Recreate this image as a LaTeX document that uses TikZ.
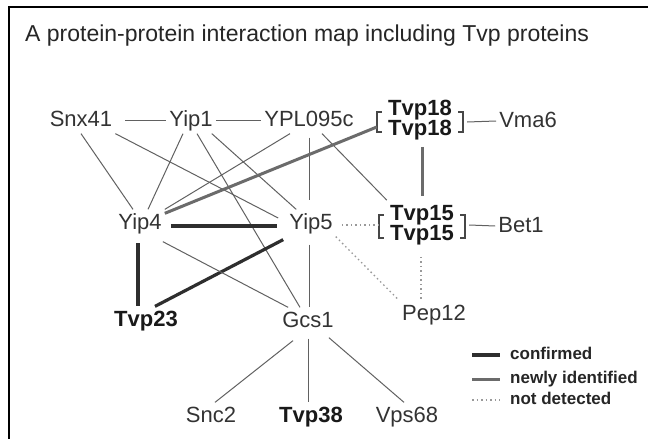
\documentclass[tikz,border=0pt]{standalone}
\usepackage{fontspec}
\setmainfont{Liberation Sans}
\usetikzlibrary{calc,fit}
\definecolor{ink}{HTML}{333333}
\begin{document}
\begin{tikzpicture}[x=1pt,y=-1pt,
  lbl/.style={font=\fontsize{22}{24}\selectfont, text=ink, inner sep=3pt,
              text height=16.5pt, text depth=4.4pt},
  blbl/.style={lbl, font=\fontsize{22}{24}\selectfont\bfseries, text=black!90},
  plain/.style={draw=black!62, line width=1pt},
  confirmed/.style={draw=black!82, line width=3.2pt},
  newly/.style={draw=black!58, line width=3pt},
  notdet/.style={draw=black!40, line width=1.3pt, dash pattern=on 1.5pt off 3pt},
  brk/.style={draw=black!72, line width=2pt},
  legtxt/.style={font=\fontsize{17}{19}\selectfont\bfseries, text=black!85,
                 inner sep=0pt, anchor=west, text height=12pt, text depth=3.5pt},
  grp/.style={inner xsep=8pt, inner ysep=0pt}
]
\useasboundingbox (0,0) rectangle (648,439);
\fill[white] (0,0) rectangle (648,439);

% frame
\draw[line width=2.6pt, black] (9,439) -- (9,7) -- (648,7);

% title
\node[font=\fontsize{23}{25}\selectfont, text=black!85, anchor=base west, inner sep=0pt]
  (title) at (25,41) {A protein-protein interaction map including Tvp proteins};

% proteins
\node[lbl]  (snx)   at (81,120)  {Snx41};
\node[lbl]  (yip1)  at (191,120) {Yip1};
\node[lbl]  (ypl)   at (309,120) {YPL095c};
\node[blbl] (t18a)  at (420,109) {Tvp18};
\node[blbl] (t18b)  at (420,129) {Tvp18};
\node[grp, fit=(t18a)(t18b)] (t18) {};
\node[lbl]  (vma6)  at (528,121) {Vma6};
\node[lbl]  (yip4)  at (140,223) {Yip4};
\node[lbl]  (yip5)  at (311,223) {Yip5};
\node[blbl] (t15a)  at (422,214) {Tvp15};
\node[blbl] (t15b)  at (422,234) {Tvp15};
\node[grp, fit=(t15a)(t15b)] (t15) {};
\node[lbl]  (bet1)  at (521,226) {Bet1};
\node[blbl] (tvp23) at (146,320) {Tvp23};
\node[lbl]  (gcs1)  at (308,321) {Gcs1};
\node[lbl]  (pep12) at (434,314) {Pep12};
\node[lbl]  (snc2)  at (211,416) {Snc2};
\node[blbl] (tvp38) at (311,416) {Tvp38};
\node[lbl]  (vps68) at (407,416) {Vps68};

% dimer brackets
\draw[brk] ($(t18.west)+(5,-7)$) -- ++(-5,0) -- ++(0,20) -- ++(5,0);
\draw[brk] ($(t18.east)+(-5,-7)$) -- ++(5,0) -- ++(0,20) -- ++(-5,0);
\draw[brk] ($(t15.west)+(5,-9)$) -- ++(-5,0) -- ++(0,23) -- ++(5,0);
\draw[brk] ($(t15.east)+(-5,-9)$) -- ++(5,0) -- ++(0,23) -- ++(-5,0);

% interactions
\draw[plain] ([xshift=10pt]snx.east) -- (yip1.west);
\draw[plain] (yip1.east) -- (ypl.west);
\draw[plain] (snx.south) -- ([xshift=-7pt]yip4.north);
\draw[plain] (snx.south east) -- ([xshift=-8pt,yshift=5pt]yip5.west);
\draw[plain] ([xshift=-8pt]yip1.south) -- ([xshift=8pt]yip4.north);
\draw[plain] ([xshift=6pt]yip1.south) -- ([xshift=-8pt]gcs1.north);
\draw[plain] ([xshift=-4pt]yip1.south east) -- ([xshift=10pt]yip5.north west);
\draw[plain] ([xshift=-19pt]ypl.south) -- (yip4.north east);
\draw[plain, shorten <=4pt, shorten >=9pt] (ypl.south) -- (ypl.south |- yip5.north);
\draw[plain] ([xshift=13pt]ypl.south) -- ([xshift=8pt]t15.north west);
\draw[newly] ([yshift=-8pt]t18.west) -- ([yshift=-4pt]yip4.north east);
\draw[plain] ([xshift=4pt,yshift=-3pt]t18.east) -- (vma6.west);
\draw[newly, shorten <=4pt, shorten >=4.5pt] ([xshift=2pt]t18.south) -- ([xshift=2pt]t18.south |- t15.north);
\draw[notdet] ([xshift=6pt,yshift=-2pt]yip5.east) -- ([yshift=-1pt]t15.west);
\draw[plain] ([xshift=4pt,yshift=-1pt]t15.east) -- (bet1.west);
\draw[notdet] (yip5.south east) -- (pep12.north west);
\draw[notdet, shorten <=9pt] ([xshift=-1pt]t15.south) -- ([xshift=-1pt]t15.south |- pep12.north);
\draw[confirmed] ([xshift=6pt,yshift=-3pt]yip4.east) -- ([xshift=-9pt,yshift=-3pt]yip5.west);
\draw[confirmed, shorten <=6.5pt] ([xshift=-2pt]yip4.south) -- ([xshift=-2pt]yip4.south |- tvp23.north);
\draw[confirmed] ([xshift=-3pt,yshift=-3pt]yip5.south west) -- ([xshift=9pt]tvp23.north);
\draw[plain] ([xshift=-2pt,yshift=-5pt]yip4.south east) -- ([xshift=9pt]gcs1.north west);
\draw[plain, shorten <=8pt] ([xshift=-2pt]yip5.south) -- ([xshift=-2pt]yip5.south |- gcs1.north);
\draw[plain] ([xshift=-15pt,yshift=-6pt]gcs1.south) -- ([xshift=4pt]snc2.north);
\draw[plain, shorten <=4pt] (gcs1.south) -- (gcs1.south |- tvp38.north);
\draw[plain] ([xshift=-8pt,yshift=-3pt]gcs1.south east) -- ([xshift=-3pt]vps68.north);

% legend
\node[legtxt] (lc) at (510,355) {confirmed};
\node[legtxt] (ln) at (510,379) {newly identified};
\node[legtxt] (ld) at (510,400) {not detected};
\draw[confirmed] ([xshift=-38pt]lc.west) -- ([xshift=-10pt]lc.west);
\draw[newly]     ([xshift=-38pt]ln.west) -- ([xshift=-10pt]ln.west);
\draw[notdet]    ([xshift=-38pt]ld.west) -- ([xshift=-10pt]ld.west);
\end{tikzpicture}
\end{document}
